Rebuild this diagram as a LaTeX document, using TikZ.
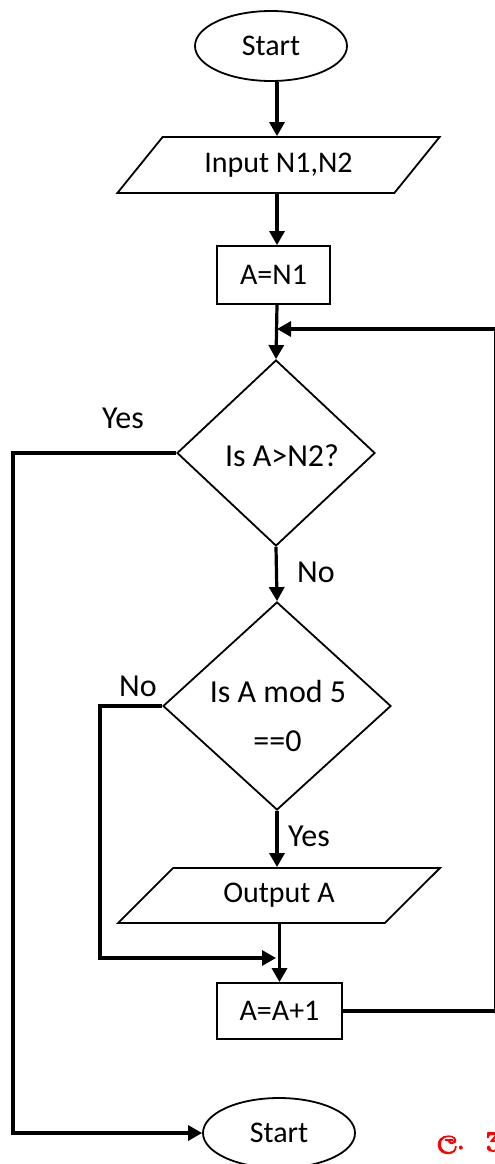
\documentclass[tikz,border=0pt]{standalone}
\usepackage{fontspec}
\setmainfont{Carlito}
\newfontfamily\sinhalafont[Script=Sinhala, FakeBold=2.5]{Abhaya Libre}
\usetikzlibrary{shapes.geometric,arrows.meta}

\begin{document}
\begin{tikzpicture}[x=1pt,y=-1pt,
  font=\fontsize{30}{34}\selectfont,
  shapeline/.style={draw, line width=1.8pt},
  term/.style={shapeline, ellipse, minimum width=152pt, minimum height=70pt, inner sep=0pt},
  io/.style={shapeline, trapezium, trapezium stretches=true,
    trapezium left angle=40, trapezium right angle=140,
    minimum width=323pt, minimum height=56pt, inner sep=0pt},
  procbox/.style={shapeline, rectangle, inner sep=0pt},
  decision/.style={shapeline, diamond, inner sep=0pt},
  txt/.style={inner sep=0pt},
  bigtxt/.style={inner sep=0pt, font=\fontsize{32}{36}\selectfont},
  flow/.style={line width=3.2pt, -{Triangle[width=15pt,length=14pt]}},
]
\useasboundingbox (0,0) rectangle (495,1164);

% nodes of the flowchart
\node[term] (start) at (271,46) {Start};
\node[io] (inp) at (278.5,165) {Input N1,N2};
\node[procbox, minimum width=113pt, minimum height=58pt] (a1) at (273.5,275) {A=N1};
\node[decision, minimum width=198pt, minimum height=186pt] (q1) at (276,453) {};
\node[bigtxt] (q1t) at (282,456) {Is A>N2?};
\node[decision, minimum width=228pt, minimum height=208pt] (q2) at (277,706) {};
\node[bigtxt] (q2a) at (278,691) {Is A mod 5};
\node[bigtxt] (q2b) at (277.5,741) {==0};
\node[io, minimum width=322pt, minimum height=55pt] (out) at (279,895.5) {Output A};
\node[procbox, minimum width=125pt, minimum height=56pt] (inc) at (279.5,1011) {A=A+1};
\node[term] (stop) at (279,1133) {Start};

% branch labels
\node[bigtxt] (yes1) at (123,418) {Yes};
\node[bigtxt] (no1) at (316,572) {No};
\node[bigtxt] (no2) at (138,686) {No};
\node[bigtxt] (yes2) at (309,836) {Yes};

% helper coordinates for the routed connectors
\coordinate (col) at (277,0);
\coordinate (join) at (277,329);
\coordinate (rx) at (496,0);
\coordinate (lx) at (13,0);
\coordinate (nx) at (100,0);
\coordinate (merge) at (276,958);

% connectors
\draw[flow] (start.south -| col) -- (inp.north -| col);
\draw[flow] (inp.south -| col) -- (a1.north -| col);
\draw[flow] (a1.south -| col) -- (q1.north);
\draw[flow] (inc.east) -- (inc.east -| rx) |- (join);
\draw[flow] (q1.west) -- (q1.west -| lx) |- (stop.west);
\draw[flow] (q1.south) -- (q2.north);
\draw[flow] (q2.west) -- (q2.west -| nx) |- (merge);
\draw[flow] (q2.south) -- (out.north -| q2.south);
\draw[flow] (out.south -| inc.north) -- (inc.north);

% reference mark at the lower right
\node[anchor=base west, inner sep=0pt, text=red,
  font=\sinhalafont\fontsize{32}{36}\selectfont] (mark) at (437,1149) {ල.\hspace{22pt}3};
\end{tikzpicture}
\end{document}
